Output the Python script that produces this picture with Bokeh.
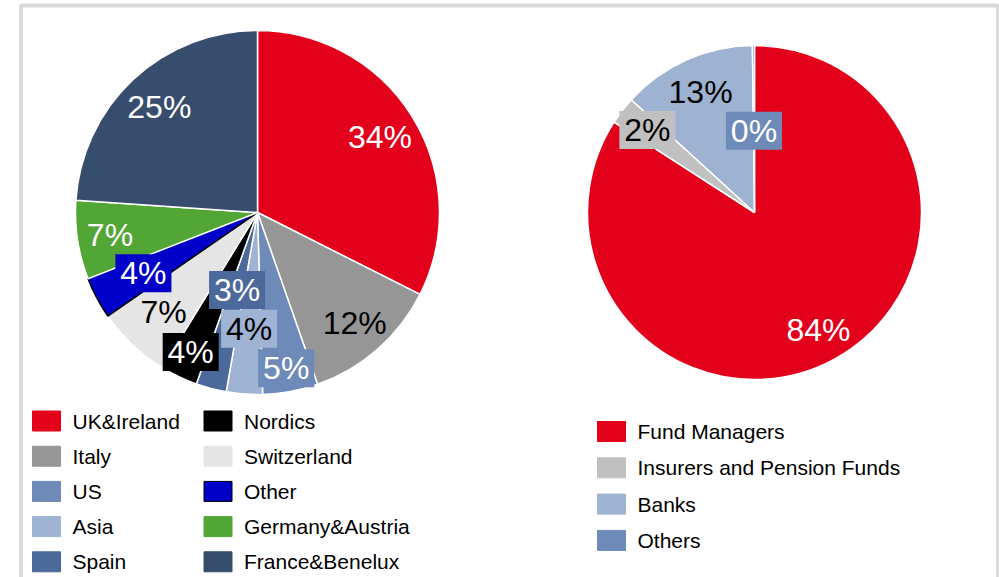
import math
from bokeh.plotting import figure
from bokeh.models import Range1d
from bokeh.core.properties import value
from bokeh.embed import file_html
from bokeh.resources import INLINE

# ---------------- data ----------------
region_names = ["UK&Ireland", "Italy", "US", "Asia", "Spain",
                "Nordics", "Switzerland", "Other", "Germany&Austria", "France&Benelux"]
region_share = [32.4, 12.2, 4.9, 3.2, 2.7, 3.3, 6.6, 3.7, 7.0, 23.9]
region_labels = ["34%", "12%", "5%", "4%", "3%", "4%", "7%", "4%", "7%", "25%"]

investor_names = ["Fund Managers", "Insurers and Pension Funds", "Banks", "Others"]
investor_share = [84.1, 2.7, 13.0, 0.2]
investor_labels = ["84%", "2%", "13%", "0%"]

# ---------------- styles ----------------
region_colors = ["#e2001a", "#969696", "#6d8ab8", "#9fb3d4", "#4b699a",
                 "#000000", "#e5e5e5", "#0000c8", "#52a636", "#374d6d"]
region_edge = ["white"] * 7 + ["black"] + ["white"] * 2
region_text_color = ["white", "black", "white", "black", "white",
                     "white", "black", "white", "white", "white"]
region_box = [False, False, True, True, True, True, False, True, False, False]
region_label_r = [0.79, 0.81, 0.87, 0.64, 0.44, 0.85, 0.75, 0.71, 0.82, 0.79]

investor_colors = ["#e2001a", "#c0c0c0", "#9eb2d2", "#6d8ab8"]
investor_edge = ["white"] * 4
investor_text_color = ["white", "black", "black", "white"]
investor_box = [False, True, False, True]
investor_label_r = [0.80, 0.81, 0.79, 0.49]

FONT = "Liberation Sans"
W, H = 999, 577

p = figure(width=W, height=H, output_backend="svg", toolbar_location=None,
           x_range=Range1d(0, W), y_range=Range1d(0, H),
           min_border=0, border_fill_color="white", background_fill_color="white")
p.axis.visible = False
p.grid.visible = False
p.outline_line_color = None


def Y(py):
    return H - py


# frame
p.rect(x=[(20.5 + 997.5) / 2], y=[Y((5 + 640) / 2)], width=[997.5 - 20.5], height=[640 - 5],
       fill_color=None, line_color="#d9d9d9", line_width=4)


def draw_pie(cx, cy, r, shares, colors, edges, labels, tcolors, boxes, lrs):
    total = float(sum(shares))
    c = 0.0
    starts, ends, lx, ly = [], [], [], []
    for s, lr in zip(shares, lrs):
        c0 = c / total
        c += s
        c1 = c / total
        starts.append(math.pi / 2 - 2 * math.pi * c0)
        ends.append(math.pi / 2 - 2 * math.pi * c1)
        mid = 2 * math.pi * (c0 + c1) / 2
        lx.append(cx + lr * r * math.sin(mid))
        ly.append(Y(cy - lr * r * math.cos(mid)))
    p.wedge(x=[cx] * len(shares), y=[Y(cy)] * len(shares), radius=r,
            start_angle=starts, end_angle=ends, direction="clock",
            fill_color=colors, line_color=edges, line_width=1.5)
    bx = [x for x, b in zip(lx, boxes) if b]
    by = [y for y, b in zip(ly, boxes) if b]
    bc = [col for col, b in zip(colors, boxes) if b]
    if bx:
        p.rect(x=bx, y=by, width=56, height=38, fill_color=bc, line_color=None)
    p.text(x=lx, y=ly, text=labels, text_color=tcolors, text_align="center",
           text_baseline="middle", text_font=value(FONT), text_font_size=value("32px"))


draw_pie(257, 212, 182, region_share, region_colors, region_edge, region_labels,
         region_text_color, region_box, region_label_r)
draw_pie(754, 212, 167, investor_share, investor_colors, investor_edge, investor_labels,
         investor_text_color, investor_box, investor_label_r)


def draw_legend(names, colors, edges, col_x, text_dx, row0, dy, per_col):
    xs, ys, tx, ty = [], [], [], []
    for i, n in enumerate(names):
        col, row = divmod(i, per_col)
        x = col_x[col]
        y = row0 + row * dy
        xs.append(x)
        ys.append(Y(y))
        tx.append(x + text_dx)
        ty.append(Y(y))
    p.rect(x=xs, y=ys, width=28, height=20, fill_color=colors, line_color=edges, line_width=1)
    p.text(x=tx, y=ty, text=names, text_color="#000000", text_align="left",
           text_baseline="middle", text_font=value(FONT), text_font_size=value("21px"))


region_legend_edge = [c if e == "white" else e for c, e in zip(region_colors, region_edge)]
draw_legend(region_names, region_colors, region_legend_edge, [46, 217.5], 26, 420.5, 35.2, 5)
draw_legend(investor_names, investor_colors, investor_colors, [611], 26, 431, 36.3, 4)

open("out.html", "w").write(file_html(p, INLINE))
